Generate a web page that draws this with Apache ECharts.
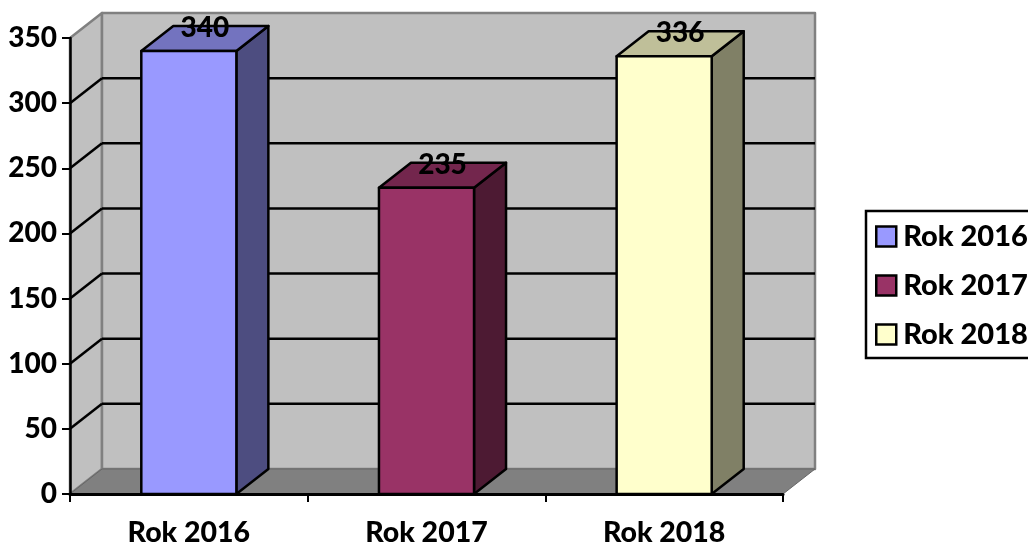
<!DOCTYPE html>
<html>
<head>
<meta charset="utf-8">
<title>Rok 2016-2018</title>
<script src="https://cdn.jsdelivr.net/npm/echarts@6/dist/echarts.min.js"></script>
<style>
html, body { margin: 0; height: 100%; overflow: hidden; background: #fff; }
#main { width: 1028px; height: 544px; }
</style>
</head>
<body>
<div id="main"></div>
<script>
var categories = ['Rok 2016', 'Rok 2017', 'Rok 2018'];
var values = [340, 235, 336];
var gridTicks = [50, 100, 150, 200, 250, 300];
var yMax = 350;

// front / top / side colours of each box
var faces = [
	{ front: '#9999FF', top: '#7373BF', side: '#4D4D80' },
	{ front: '#993366', top: '#73264D', side: '#4D1A33' },
	{ front: '#FFFFCC', top: '#BFBF99', side: '#808066' }
];
// 3D depth of the box in pixels
var DX = 32, DY = -25;
var FONT = 'Lato';
var FONT_SIZE = 28;
var FONT_WEIGHT = 900;

var myChart = echarts.init(document.getElementById('main'));

function polygon(points, fill, stroke, width) {
	return {
		type: 'polygon',
		shape: { points: points },
		style: { fill: fill, stroke: stroke, lineWidth: width, lineJoin: 'round' }
	};
}

function line(x1, y1, x2, y2, stroke, width) {
	return {
		type: 'line',
		shape: { x1: x1, y1: y1, x2: x2, y2: y2 },
		style: { stroke: stroke, lineWidth: width }
	};
}

// walls, floor and grid lines
function renderWalls(params, api) {
	var r = params.coordSys;
	var l = r.x, b = r.y + r.height, t = r.y, e = r.x + r.width;
	var kids = [
		polygon([[l, b], [l + DX, b + DY], [l + DX, t + DY], [l, t]], '#C0C0C0', '#808080', 2.5),
		polygon([[l + DX, b + DY], [e + DX, b + DY], [e + DX, t + DY], [l + DX, t + DY]], '#C0C0C0', '#808080', 2.5),
		polygon([[l, b], [l + DX, b + DY], [e + DX, b + DY], [e, b]], '#808080', '#666666', 1)
	];
	gridTicks.forEach(function(tick) {
		var y = api.coord([0, tick])[1];
		kids.push(line(l, y, l + DX, y + DY, '#000', 2.5));
		kids.push(line(l + DX, y + DY, e + DX, y + DY, '#000', 2.5));
	});
	return { type: 'group', children: kids };
}

function renderBox(face) {
	return function(params, api) {
		var p = api.coord([api.value(0), api.value(1)]);
		var base = api.coord([api.value(0), 0])[1];
		var w = api.size([1, 0])[0] * 0.4;
		var x0 = p[0] - w / 2, x1 = p[0] + w / 2, top = p[1];
		return {
			type: 'group',
			children: [
				polygon([[x1, base], [x1 + DX, base + DY], [x1 + DX, top + DY], [x1, top]], face.side, '#000', 2.5),
				polygon([[x0, top], [x0 + DX, top + DY], [x1 + DX, top + DY], [x1, top]], face.top, '#000', 2.5),
				polygon([[x0, base], [x1, base], [x1, top], [x0, top]], face.front, '#000', 2.5),
				{
					type: 'text',
					x: p[0] + DX / 2,
					y: top + DY + 2,
					style: {
						text: String(api.value(1)),
						fill: '#000',
						font: FONT_WEIGHT + ' ' + FONT_SIZE + 'px ' + FONT,
						align: 'center',
						verticalAlign: 'middle'
					}
				}
			]
		};
	};
}

var series = [{
	name: 'walls',
	type: 'custom',
	z: 1,
	silent: true,
	renderItem: renderWalls,
	data: [[0, 0]]
}];

categories.forEach(function(name, i) {
	series.push({
		name: name,
		type: 'custom',
		z: 2,
		itemStyle: { color: faces[i].front },
		renderItem: renderBox(faces[i]),
		encode: { x: 0, y: 1 },
		data: [[i, values[i]]]
	});
});

var option = {
	animation: false,
	backgroundColor: '#fff',
	textStyle: { fontFamily: FONT },
	grid: { left: 70, right: 245, top: 38, bottom: 50, outerBoundsMode: 'none' },
	legend: {
		orient: 'vertical',
		left: 866,
		top: 211,
		data: categories,
		icon: 'rect',
		itemWidth: 20,
		itemHeight: 20,
		itemGap: 20,
		padding: [11, 20, 9, 9],
		backgroundColor: '#fff',
		borderColor: '#000',
		borderWidth: 2.5,
		itemStyle: { borderColor: '#000', borderWidth: 2.5 },
		textStyle: { fontFamily: FONT, fontWeight: FONT_WEIGHT, fontSize: 29, color: '#000', padding: [0, 0, 0, 2] }
	},
	xAxis: {
		type: 'category',
		data: categories,
		z: 5,
		axisLine: { lineStyle: { color: '#000', width: 3 } },
		axisTick: { show: true, alignWithLabel: false, length: 8, lineStyle: { color: '#000', width: 2 } },
		axisLabel: { color: '#000', fontFamily: FONT, fontWeight: FONT_WEIGHT, fontSize: 28.5, margin: 24 }
	},
	yAxis: {
		type: 'value',
		min: 0,
		max: yMax,
		interval: 50,
		z: 5,
		splitLine: { show: false },
		axisLine: { show: true, lineStyle: { color: '#000', width: 2.5 } },
		axisTick: { show: true, length: 8, lineStyle: { color: '#000', width: 2 } },
		axisLabel: { color: '#000', fontFamily: FONT, fontWeight: FONT_WEIGHT, fontSize: FONT_SIZE, margin: 13 }
	},
	series: series
};
myChart.setOption(option);
</script>
</body>
</html>
